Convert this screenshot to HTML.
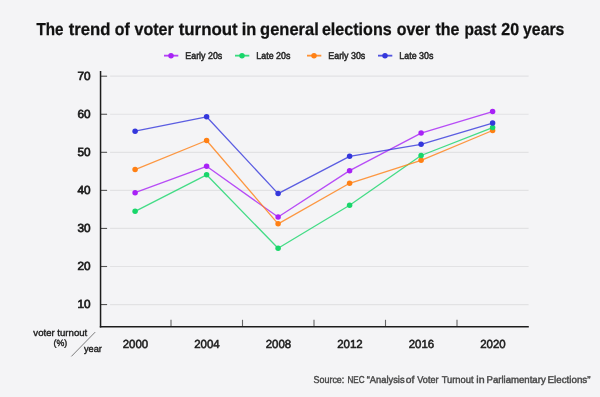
<!DOCTYPE html>
<html><head><meta charset="utf-8"><style>
html,body{margin:0;padding:0;background:#f4f4f6;width:600px;height:397px;overflow:hidden}
.wrap{width:600px;height:397px;will-change:transform}
svg{display:block}
text{font-family:"Liberation Sans",sans-serif;text-rendering:geometricPrecision}
.ti{font-weight:bold;font-size:16.2px;fill:#111;stroke:#111;stroke-width:0.25}
.lg{font-size:9.1px;fill:#2a2a2a;stroke:#2a2a2a;stroke-width:0.5}
.yl{font-size:11.8px;fill:#1a1a1a;stroke:#1a1a1a;stroke-width:0.7}
.xl{font-size:11.7px;fill:#1a1a1a;stroke:#1a1a1a;stroke-width:0.55}
.cl{font-size:9.6px;fill:#222;stroke:#222;stroke-width:0.4}
.src{font-size:9.4px;fill:#474747;stroke:#474747;stroke-width:0.4}
</style></head><body><div class="wrap">
<svg width="600" height="397" viewBox="0 0 600 397">
<line x1="110.1" y1="304.56" x2="528.6" y2="304.56" stroke="#e2e2e4" stroke-width="1.2"/>
<line x1="100.5" y1="304.56" x2="107.1" y2="304.56" stroke="#555" stroke-width="1.1"/>
<text transform="translate(90.60,308.16) scale(1.0,1.0)" text-anchor="end" class="yl">10</text>
<line x1="110.1" y1="266.50" x2="528.6" y2="266.50" stroke="#e2e2e4" stroke-width="1.2"/>
<line x1="100.5" y1="266.50" x2="107.1" y2="266.50" stroke="#555" stroke-width="1.1"/>
<text transform="translate(90.60,270.10) scale(1.0,1.0)" text-anchor="end" class="yl">20</text>
<line x1="110.1" y1="228.44" x2="528.6" y2="228.44" stroke="#e2e2e4" stroke-width="1.2"/>
<line x1="100.5" y1="228.44" x2="107.1" y2="228.44" stroke="#555" stroke-width="1.1"/>
<text transform="translate(90.60,232.04) scale(1.0,1.0)" text-anchor="end" class="yl">30</text>
<line x1="110.1" y1="190.38" x2="528.6" y2="190.38" stroke="#e2e2e4" stroke-width="1.2"/>
<line x1="100.5" y1="190.38" x2="107.1" y2="190.38" stroke="#555" stroke-width="1.1"/>
<text transform="translate(90.60,193.98) scale(1.0,1.0)" text-anchor="end" class="yl">40</text>
<line x1="110.1" y1="152.32" x2="528.6" y2="152.32" stroke="#e2e2e4" stroke-width="1.2"/>
<line x1="100.5" y1="152.32" x2="107.1" y2="152.32" stroke="#555" stroke-width="1.1"/>
<text transform="translate(90.60,155.92) scale(1.0,1.0)" text-anchor="end" class="yl">50</text>
<line x1="110.1" y1="114.26" x2="528.6" y2="114.26" stroke="#e2e2e4" stroke-width="1.2"/>
<line x1="100.5" y1="114.26" x2="107.1" y2="114.26" stroke="#555" stroke-width="1.1"/>
<text transform="translate(90.60,117.86) scale(1.0,1.0)" text-anchor="end" class="yl">60</text>
<line x1="110.1" y1="76.20" x2="528.6" y2="76.20" stroke="#e2e2e4" stroke-width="1.2"/>
<line x1="100.5" y1="76.20" x2="107.1" y2="76.20" stroke="#555" stroke-width="1.1"/>
<text transform="translate(90.60,79.80) scale(1.0,1.0)" text-anchor="end" class="yl">70</text>
<line x1="100.55" y1="71" x2="100.55" y2="327.5" stroke="#1c1c1c" stroke-width="1.5"/>
<line x1="99.8" y1="326.85" x2="528.8" y2="326.85" stroke="#1c1c1c" stroke-width="1.5"/>
<line x1="171.00" y1="319.8" x2="171.00" y2="326" stroke="#666" stroke-width="1.1"/>
<line x1="242.50" y1="319.8" x2="242.50" y2="326" stroke="#666" stroke-width="1.1"/>
<line x1="314.00" y1="319.8" x2="314.00" y2="326" stroke="#666" stroke-width="1.1"/>
<line x1="385.50" y1="319.8" x2="385.50" y2="326" stroke="#666" stroke-width="1.1"/>
<line x1="457.00" y1="319.8" x2="457.00" y2="326" stroke="#666" stroke-width="1.1"/>
<text transform="translate(135.40,348.00) scale(0.98,1.0)" text-anchor="middle" class="xl">2000</text>
<text transform="translate(206.90,348.00) scale(0.98,1.0)" text-anchor="middle" class="xl">2004</text>
<text transform="translate(278.40,348.00) scale(0.98,1.0)" text-anchor="middle" class="xl">2008</text>
<text transform="translate(349.90,348.00) scale(0.98,1.0)" text-anchor="middle" class="xl">2012</text>
<text transform="translate(421.40,348.00) scale(0.98,1.0)" text-anchor="middle" class="xl">2016</text>
<text transform="translate(492.90,348.00) scale(0.98,1.0)" text-anchor="middle" class="xl">2020</text>
<polyline points="135.10,192.70 206.60,166.30 278.10,217.05 349.60,170.67 421.10,133.06 492.60,111.60" fill="none" stroke="#a822f6" stroke-width="1.3" stroke-opacity="0.8" stroke-linejoin="round"/>
<polyline points="135.10,211.30 206.60,174.80 278.10,248.30 349.60,205.30 421.10,155.50 492.60,127.60" fill="none" stroke="#18d66a" stroke-width="1.3" stroke-opacity="0.8" stroke-linejoin="round"/>
<polyline points="135.10,169.60 206.60,140.50 278.10,223.85 349.60,183.30 421.10,160.30 492.60,130.50" fill="none" stroke="#ff8014" stroke-width="1.3" stroke-opacity="0.8" stroke-linejoin="round"/>
<polyline points="135.10,131.20 206.60,116.80 278.10,193.60 349.60,156.30 421.10,144.30 492.60,123.06" fill="none" stroke="#3437dc" stroke-width="1.3" stroke-opacity="0.8" stroke-linejoin="round"/>
<circle cx="135.10" cy="192.70" r="2.75" fill="#a822f6"/>
<circle cx="206.60" cy="166.30" r="2.75" fill="#a822f6"/>
<circle cx="278.10" cy="217.05" r="2.75" fill="#a822f6"/>
<circle cx="349.60" cy="170.67" r="2.75" fill="#a822f6"/>
<circle cx="421.10" cy="133.06" r="2.75" fill="#a822f6"/>
<circle cx="492.60" cy="111.60" r="2.75" fill="#a822f6"/>
<circle cx="135.10" cy="169.60" r="2.75" fill="#ff8014"/>
<circle cx="206.60" cy="140.50" r="2.75" fill="#ff8014"/>
<circle cx="278.10" cy="223.85" r="2.75" fill="#ff8014"/>
<circle cx="349.60" cy="183.30" r="2.75" fill="#ff8014"/>
<circle cx="421.10" cy="160.30" r="2.75" fill="#ff8014"/>
<circle cx="492.60" cy="130.50" r="2.75" fill="#ff8014"/>
<circle cx="135.10" cy="211.30" r="2.75" fill="#18d66a"/>
<circle cx="206.60" cy="174.80" r="2.75" fill="#18d66a"/>
<circle cx="278.10" cy="248.30" r="2.75" fill="#18d66a"/>
<circle cx="349.60" cy="205.30" r="2.75" fill="#18d66a"/>
<circle cx="421.10" cy="155.50" r="2.75" fill="#18d66a"/>
<circle cx="492.60" cy="127.60" r="2.75" fill="#18d66a"/>
<circle cx="135.10" cy="131.20" r="2.75" fill="#3437dc"/>
<circle cx="206.60" cy="116.80" r="2.75" fill="#3437dc"/>
<circle cx="278.10" cy="193.60" r="2.75" fill="#3437dc"/>
<circle cx="349.60" cy="156.30" r="2.75" fill="#3437dc"/>
<circle cx="421.10" cy="144.30" r="2.75" fill="#3437dc"/>
<circle cx="492.60" cy="123.06" r="2.75" fill="#3437dc"/>
<line x1="164" y1="55.65" x2="178.3" y2="55.65" stroke="#a822f6" stroke-width="1.8" stroke-opacity="0.85"/>
<circle cx="171.0" cy="55.65" r="2.75" fill="#a822f6"/>
<text transform="translate(185.30,58.60) scale(0.975,1.08)" text-anchor="start" class="lg">Early 20s</text>
<line x1="235" y1="55.65" x2="249.3" y2="55.65" stroke="#18d66a" stroke-width="1.8" stroke-opacity="0.85"/>
<circle cx="242.0" cy="55.65" r="2.75" fill="#18d66a"/>
<text transform="translate(256.30,58.60) scale(0.975,1.08)" text-anchor="start" class="lg">Late 20s</text>
<line x1="307" y1="55.65" x2="321.3" y2="55.65" stroke="#ff8014" stroke-width="1.8" stroke-opacity="0.85"/>
<circle cx="314.0" cy="55.65" r="2.75" fill="#ff8014"/>
<text transform="translate(328.30,58.60) scale(0.975,1.08)" text-anchor="start" class="lg">Early 30s</text>
<line x1="378" y1="55.65" x2="392.3" y2="55.65" stroke="#3437dc" stroke-width="1.8" stroke-opacity="0.85"/>
<circle cx="385.0" cy="55.65" r="2.75" fill="#3437dc"/>
<text transform="translate(399.30,58.60) scale(0.975,1.08)" text-anchor="start" class="lg">Late 30s</text>
<text transform="translate(60.30,335.70) scale(1.0,1.0)" text-anchor="middle" class="cl">voter turnout</text>
<text transform="translate(60.40,346.00) scale(0.92,0.94)" text-anchor="middle" class="cl">(%)</text>
<text transform="translate(84.00,351.80) scale(0.96,1.0)" text-anchor="start" class="cl">year</text>
<line x1="71.4" y1="356.4" x2="95.2" y2="332.1" stroke="#666" stroke-width="0.85"/>
<text transform="translate(36.50,35.3) scale(1,1.07)" textLength="27.04" lengthAdjust="spacingAndGlyphs" class="ti">The</text>
<text transform="translate(68.70,35.3) scale(1,1.07)" textLength="41.60" lengthAdjust="spacingAndGlyphs" class="ti">trend</text>
<text transform="translate(114.70,35.3) scale(1,1.07)" textLength="15.00" lengthAdjust="spacingAndGlyphs" class="ti">of</text>
<text transform="translate(134.50,35.3) scale(1,1.07)" textLength="39.21" lengthAdjust="spacingAndGlyphs" class="ti">voter</text>
<text transform="translate(178.70,35.3) scale(1,1.07)" textLength="59.00" lengthAdjust="spacingAndGlyphs" class="ti">turnout</text>
<text transform="translate(241.70,35.3) scale(1,1.07)" textLength="14.53" lengthAdjust="spacingAndGlyphs" class="ti">in</text>
<text transform="translate(260.10,35.3) scale(1,1.07)" textLength="58.62" lengthAdjust="spacingAndGlyphs" class="ti">general</text>
<text transform="translate(321.90,35.3) scale(1,1.07)" textLength="69.80" lengthAdjust="spacingAndGlyphs" class="ti">elections</text>
<text transform="translate(396.70,35.3) scale(1,1.07)" textLength="33.60" lengthAdjust="spacingAndGlyphs" class="ti">over</text>
<text transform="translate(435.50,35.3) scale(1,1.07)" textLength="24.00" lengthAdjust="spacingAndGlyphs" class="ti">the</text>
<text transform="translate(464.50,35.3) scale(1,1.07)" textLength="31.79" lengthAdjust="spacingAndGlyphs" class="ti">past</text>
<text transform="translate(501.30,35.3) scale(1,1.07)" textLength="17.78" lengthAdjust="spacingAndGlyphs" class="ti">20</text>
<text transform="translate(523.10,35.3) scale(1,1.07)" textLength="41.19" lengthAdjust="spacingAndGlyphs" class="ti">years</text>
<text transform="translate(313.50,382.8) scale(1,1.06)" textLength="30.80" lengthAdjust="spacingAndGlyphs" class="src">Source:</text>
<text transform="translate(347.50,382.8) scale(1,1.06)" textLength="17.00" lengthAdjust="spacingAndGlyphs" class="src">NEC</text>
<text transform="translate(366.70,382.8) scale(1,1.06)" textLength="37.87" lengthAdjust="spacingAndGlyphs" class="src">“Analysis</text>
<text transform="translate(405.70,382.8) scale(1,1.06)" textLength="8.60" lengthAdjust="spacingAndGlyphs" class="src">of</text>
<text transform="translate(417.30,382.8) scale(1,1.06)" textLength="21.20" lengthAdjust="spacingAndGlyphs" class="src">Voter</text>
<text transform="translate(441.70,382.8) scale(1,1.06)" textLength="31.82" lengthAdjust="spacingAndGlyphs" class="src">Turnout</text>
<text transform="translate(476.30,382.8) scale(1,1.06)" textLength="8.24" lengthAdjust="spacingAndGlyphs" class="src">in</text>
<text transform="translate(486.50,382.8) scale(1,1.06)" textLength="59.20" lengthAdjust="spacingAndGlyphs" class="src">Parliamentary</text>
<text transform="translate(547.50,382.8) scale(1,1.06)" textLength="43.00" lengthAdjust="spacingAndGlyphs" class="src">Elections”</text>
</svg>
</div></body></html>
